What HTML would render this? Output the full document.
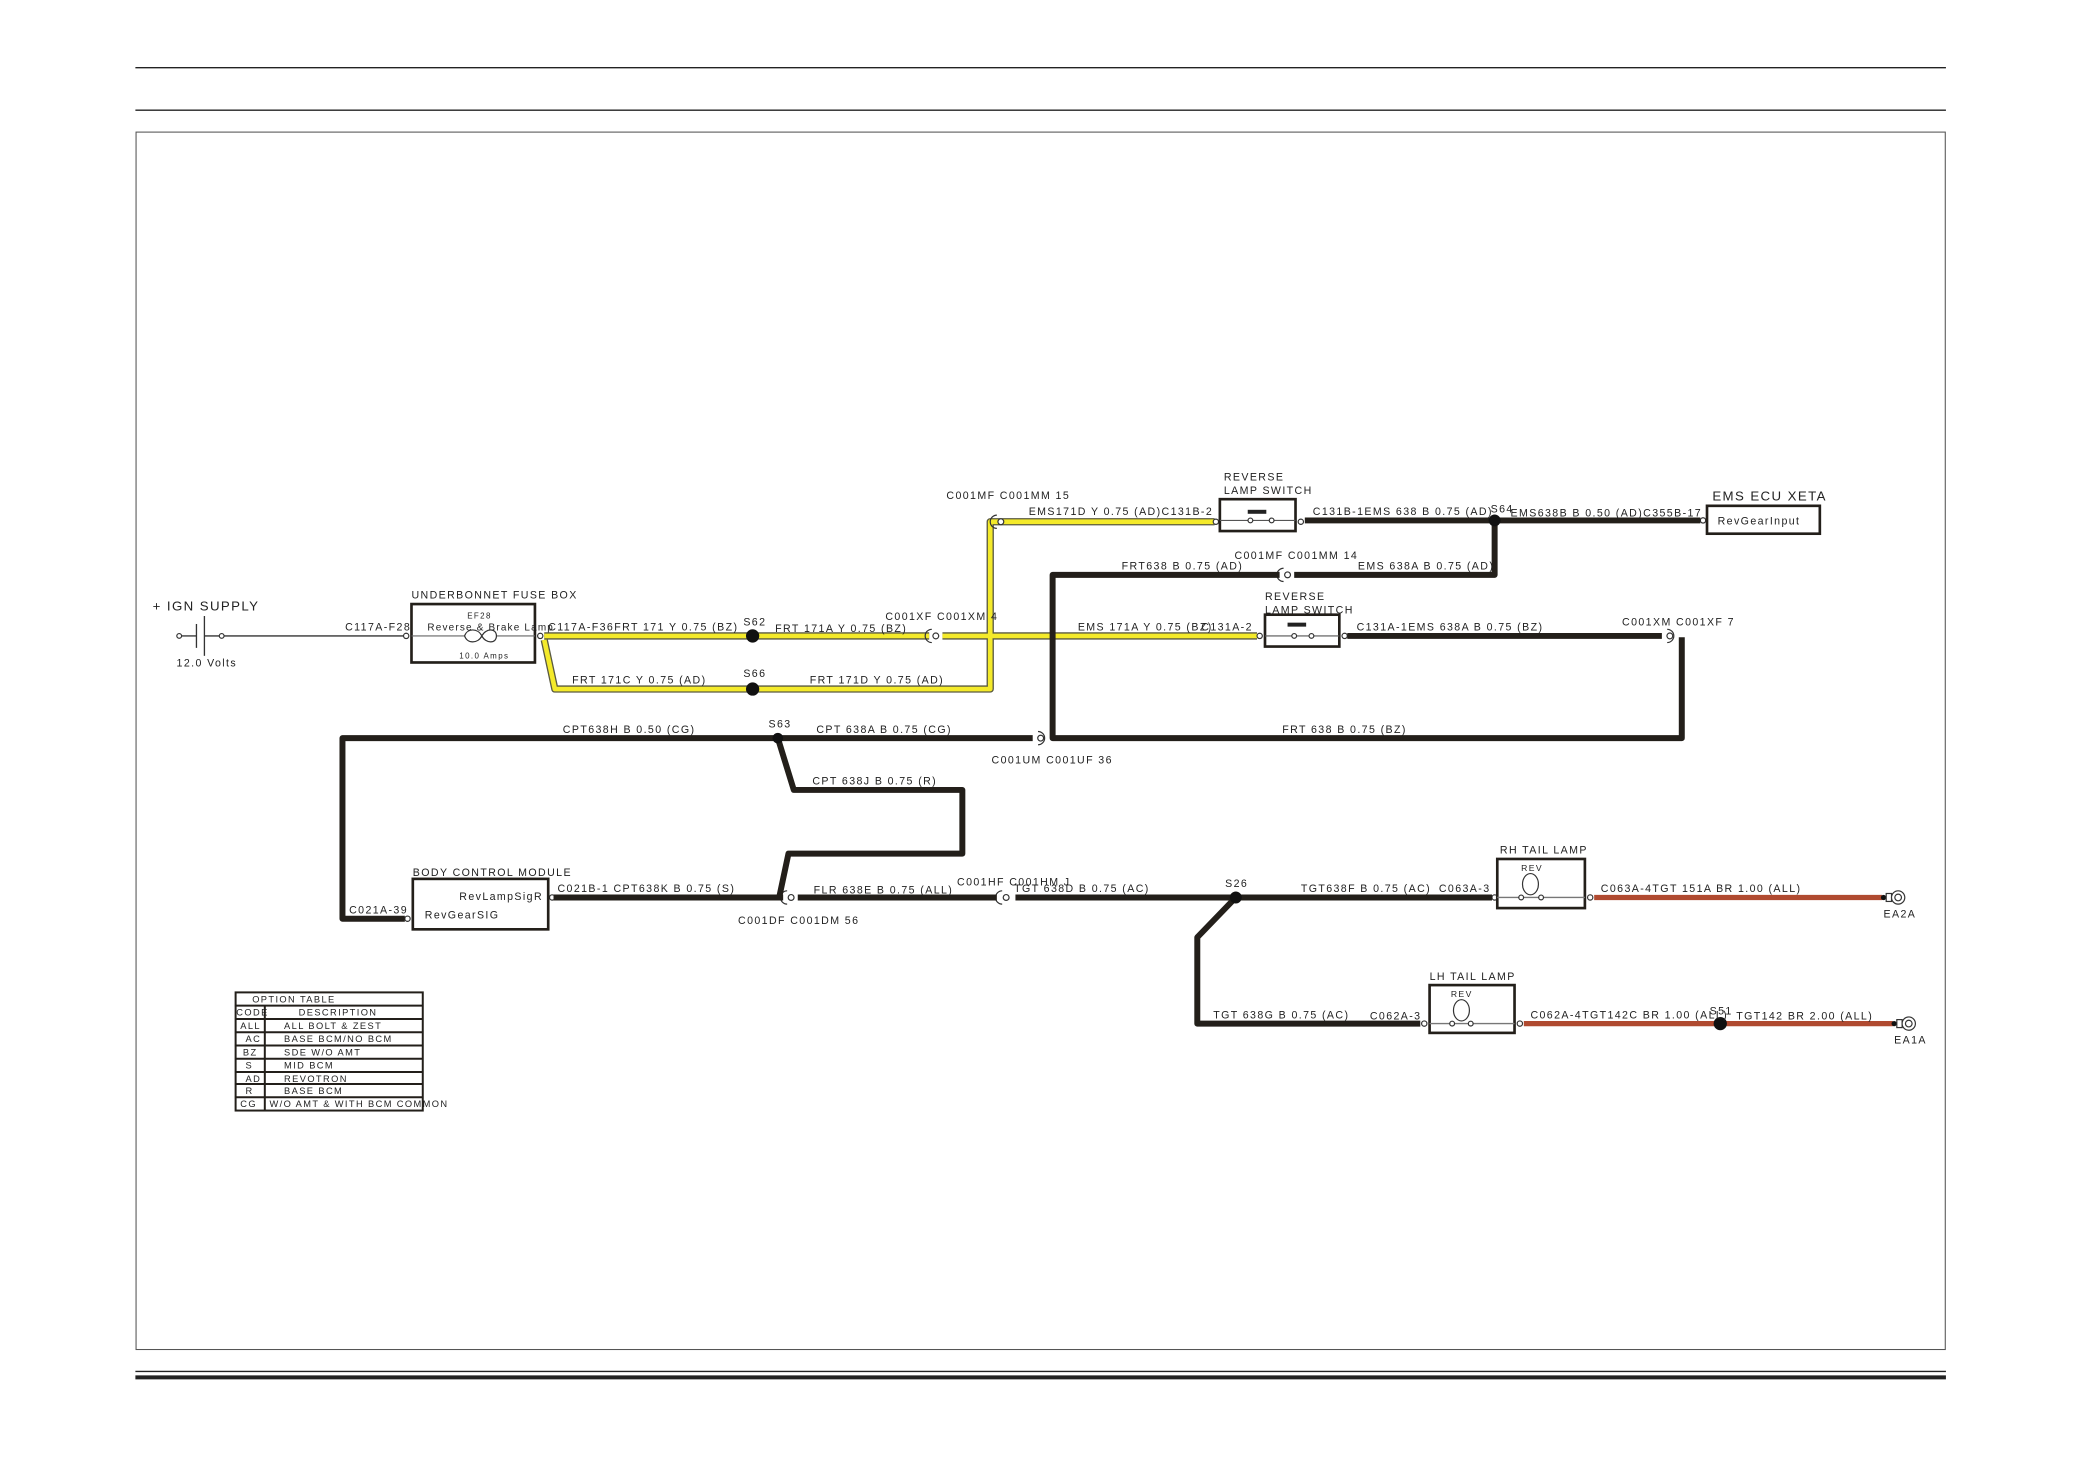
<!DOCTYPE html>
<html><head><meta charset="utf-8"><style>
html,body{margin:0;padding:0;background:#fff;}
svg{display:block;}
text{font-family:"Liberation Sans",sans-serif;font-size:8px;letter-spacing:1.05px;fill:#222;}
.y1{stroke:#5a5a40;stroke-width:5.5;fill:none;stroke-linejoin:round;}
.y2{stroke:#f4ea2a;stroke-width:3.5;fill:none;stroke-linejoin:round;}
.b{stroke:#231f1a;stroke-width:4.5;fill:none;stroke-linejoin:round;}
.r{stroke:#b04a30;stroke-width:4;fill:none;}
.t{stroke:#333;stroke-width:1;fill:none;}
.box{stroke:#231f1a;stroke-width:2;fill:#fff;}
.c{stroke:#333;stroke-width:0.9;fill:#fff;}
</style></head><body>
<svg width="2080" height="1471" viewBox="0 0 1567 1108" preserveAspectRatio="none" xmlns="http://www.w3.org/2000/svg">
<!-- frame -->
<line x1="102" y1="51" x2="1466" y2="51" stroke="#222" stroke-width="1"/>
<line x1="102" y1="83" x2="1466" y2="83" stroke="#222" stroke-width="1"/>
<rect x="102.5" y="99.5" width="1363" height="917" fill="none" stroke="#555" stroke-width="0.8"/>
<line x1="102" y1="1033" x2="1466" y2="1033" stroke="#222" stroke-width="1"/>
<line x1="102" y1="1037.5" x2="1466" y2="1037.5" stroke="#222" stroke-width="3"/>

<!-- IGN supply -->
<text x="115" y="460" style="font-size:10px">+ IGN SUPPLY</text>
<line x1="137" y1="479" x2="148" y2="479" class="t"/>
<line x1="148" y1="470" x2="148" y2="488" class="t"/>
<line x1="154" y1="464" x2="154" y2="494" class="t"/>
<line x1="154" y1="479" x2="166" y2="479" class="t"/>
<circle cx="135" cy="479" r="1.8" class="c"/><circle cx="167" cy="479" r="1.8" class="c"/>
<line x1="169" y1="479" x2="306" y2="479" class="t"/>
<text x="133" y="502">12.0 Volts</text>
<text x="260" y="475">C117A-F28</text>
<circle cx="306" cy="479" r="2" class="c"/>

<!-- fuse box -->
<text x="310" y="451">UNDERBONNET FUSE BOX</text>
<rect x="310" y="455" width="93" height="44" class="box"/>
<line x1="310" y1="479" x2="403" y2="479" stroke="#666" stroke-width="0.8"/>
<path d="M350 479 C352 473,360 473,363 479 C366 485,374 485,374 479 C374 473,366 473,363 479 C360 485,352 485,350 479Z" fill="#fff" stroke="#333" stroke-width="0.9"/>
<text x="352" y="466" style="font-size:6px">EF28</text>
<text x="322" y="475" style="font-size:7.5px;letter-spacing:0.9px">Reverse &amp; Brake Lamp</text>
<text x="346" y="496" style="font-size:6px">10.0 Amps</text>
<circle cx="407" cy="479" r="2" class="c"/>

<!-- yellow wires -->
<g>
<path class="y1" d="M410 479 H700 M710 479 H947 M410 482 L418 519 H746 V393 H760 M760 393 H915"/>
<path class="y2" d="M410 479 H700 M710 479 H947 M410 482 L418 519 H746 V393 H760 M760 393 H915"/>
</g>
<circle cx="567" cy="479" r="5" fill="#111"/>
<circle cx="567" cy="519" r="5" fill="#111"/>
<text x="413" y="475">C117A-F36FRT 171 Y 0.75 (BZ)</text>
<text x="560" y="471">S62</text>
<text x="584" y="476">FRT 171A Y 0.75 (BZ)</text>
<text x="667" y="467">C001XF C001XM 4</text>
<text x="431" y="515">FRT 171C Y 0.75 (AD)</text>
<text x="560" y="510">S66</text>
<text x="610" y="515">FRT 171D Y 0.75 (AD)</text>
<text x="713" y="376">C001MF C001MM 15</text>
<text x="775" y="388">EMS171D Y 0.75 (AD)C131B-2</text>
<text x="812" y="475">EMS 171A Y 0.75 (BZ)</text>
<text x="905" y="475">C131A-2</text>

<!-- connectors -->
<g class="c">
<path d="M702 474 A5 5 0 0 0 702 484" fill="none"/><circle cx="705" cy="479" r="2.2"/>
<path d="M751 388 A5 5 0 0 0 751 398" fill="none"/><circle cx="754" cy="393" r="2.2"/>
<path d="M967 428 A5 5 0 0 0 967 438" fill="none"/><circle cx="970" cy="433" r="2.2"/>
<path d="M782 551 A5 5 0 0 1 782 561" fill="none"/><circle cx="784" cy="556" r="2.2"/>
<path d="M1256 474 A5 5 0 0 1 1256 484" fill="none"/><circle cx="1258" cy="479" r="2.2"/>
<path d="M593 671 A5 5 0 0 0 593 681" fill="none"/><circle cx="596" cy="676" r="2.2"/>
<path d="M755 671 A5 5 0 0 0 755 681" fill="none"/><circle cx="758" cy="676" r="2.2"/>
<circle cx="916" cy="393" r="2"/><circle cx="980" cy="393" r="2"/>
<circle cx="949" cy="479" r="2"/><circle cx="1013" cy="479" r="2"/>
<circle cx="1283" cy="392" r="2"/>
<circle cx="416" cy="676" r="2"/><circle cx="307" cy="692" r="2"/>
<circle cx="1126" cy="676" r="2"/><circle cx="1198" cy="676" r="2"/>
<circle cx="1073" cy="771" r="2"/><circle cx="1145" cy="771" r="2"/>
</g>

<!-- black wires -->
<path class="b" d="M983 392 H1281 M1126 392 V433 H975 M964 433 H793 V556 H1267 V480 M1015 479 H1252"/>
<path class="b" d="M778 556 H258 V692 H305 M586 556 L598 595 H725 V643 H594 L587 676 M417 676 H590 M601 676 H751 M765 676 H1124 M931 676 L902 706 V771 H1070"/>
<circle cx="1126" cy="392" r="4.5" fill="#111"/>
<circle cx="586" cy="556" r="4" fill="#111"/>
<circle cx="931" cy="676" r="4.5" fill="#111"/>

<!-- brown wires -->
<path class="r" d="M1201 676 H1418 M1148 771 H1426"/>
<circle cx="1296" cy="771" r="5" fill="#111"/>
<circle cx="1419" cy="676" r="2" fill="#111"/><circle cx="1427" cy="771" r="2" fill="#111"/>
<g class="c">
<rect x="1421" y="673" width="4" height="6"/><circle cx="1430" cy="676" r="5"/><circle cx="1430" cy="676" r="2.5"/>
<rect x="1429" y="768" width="4" height="6"/><circle cx="1438" cy="771" r="5"/><circle cx="1438" cy="771" r="2.5"/>
</g>
<text x="1419" y="691">EA2A</text>
<text x="1427" y="786">EA1A</text>

<!-- switch 1 -->
<text x="922" y="362">REVERSE</text>
<text x="922" y="372">LAMP SWITCH</text>
<rect x="919" y="376" width="57" height="24" class="box"/>
<rect x="940" y="384" width="14" height="3" fill="#222"/>
<line x1="919" y1="392" x2="976" y2="392" stroke="#555" stroke-width="0.8"/>
<circle cx="942" cy="392" r="1.8" class="c"/><circle cx="958" cy="392" r="1.8" class="c"/>
<text x="989" y="388">C131B-1EMS 638 B 0.75 (AD)</text>
<text x="1123" y="386">S64</text>
<text x="1138" y="389">EMS638B B 0.50 (AD)C355B-17</text>
<text x="1290" y="377" style="font-size:10px">EMS ECU XETA</text>
<rect x="1286" y="381" width="85" height="21" class="box"/>
<text x="1294" y="395">RevGearInput</text>
<text x="930" y="421">C001MF C001MM 14</text>
<text x="845" y="429">FRT638 B 0.75 (AD)</text>
<text x="1023" y="429">EMS 638A B 0.75 (AD)</text>

<!-- switch 2 -->
<text x="953" y="452">REVERSE</text>
<text x="953" y="462">LAMP SWITCH</text>
<rect x="953" y="463" width="56" height="24" class="box"/>
<rect x="970" y="469" width="14" height="3" fill="#222"/>
<line x1="953" y1="479" x2="1009" y2="479" stroke="#555" stroke-width="0.8"/>
<circle cx="975" cy="479" r="1.8" class="c"/><circle cx="988" cy="479" r="1.8" class="c"/>
<text x="1022" y="475">C131A-1EMS 638A B 0.75 (BZ)</text>
<text x="1222" y="471">C001XM C001XF 7</text>

<text x="424" y="552">CPT638H B 0.50 (CG)</text>
<text x="579" y="548">S63</text>
<text x="615" y="552">CPT 638A B 0.75 (CG)</text>
<text x="747" y="575">C001UM C001UF 36</text>
<text x="966" y="552">FRT 638 B 0.75 (BZ)</text>
<text x="612" y="591">CPT 638J B 0.75 (R)</text>

<!-- BCM -->
<text x="311" y="660">BODY CONTROL MODULE</text>
<rect x="311" y="662" width="102" height="38" class="box"/>
<text x="346" y="678">RevLampSigR</text>
<text x="320" y="692">RevGearSIG</text>
<text x="263" y="688">C021A-39</text>
<text x="420" y="672">C021B-1  CPT638K B 0.75 (S)</text>
<text x="613" y="673">FLR  638E B 0.75 (ALL)</text>
<text x="721" y="667">C001HF C001HM J</text>
<text x="556" y="696">C001DF C001DM 56</text>
<text x="764" y="672">TGT 638D B 0.75 (AC)</text>
<text x="923" y="668">S26</text>
<text x="980" y="672">TGT638F B 0.75 (AC)</text>
<text x="1084" y="672">C063A-3</text>
<text x="914" y="767">TGT 638G B 0.75 (AC)</text>
<text x="1032" y="768">C062A-3</text>

<!-- RH tail lamp -->
<text x="1130" y="643">RH TAIL LAMP</text>
<rect x="1128" y="647" width="66" height="37" class="box"/>
<text x="1146" y="656" style="font-size:6.5px">REV</text>
<line x1="1128" y1="676" x2="1194" y2="676" stroke="#777" stroke-width="1"/>
<ellipse cx="1153" cy="666" rx="6" ry="8" class="c"/>
<circle cx="1146" cy="676" r="1.8" class="c"/><circle cx="1161" cy="676" r="1.8" class="c"/>
<text x="1206" y="672">C063A-4TGT 151A BR 1.00 (ALL)</text>

<!-- LH tail lamp -->
<text x="1077" y="738">LH TAIL LAMP</text>
<rect x="1077" y="742" width="64" height="36" class="box"/>
<text x="1093" y="751" style="font-size:6.5px">REV</text>
<line x1="1077" y1="771" x2="1141" y2="771" stroke="#777" stroke-width="1"/>
<ellipse cx="1101" cy="761" rx="6" ry="8" class="c"/>
<circle cx="1094" cy="771" r="1.8" class="c"/><circle cx="1108" cy="771" r="1.8" class="c"/>
<text x="1153" y="767">C062A-4TGT142C BR 1.00 (ALL)</text>
<text x="1288" y="764">S51</text>
<text x="1308" y="768">TGT142 BR 2.00 (ALL)</text>

<!-- option table -->
<g stroke="#231f1a" stroke-width="1.5" fill="none">
<rect x="177.5" y="747.5" width="141" height="89"/>
<line x1="199.5" y1="757" x2="199.5" y2="837"/>
<line x1="177" y1="757.5" x2="318" y2="757.5"/>
<line x1="177" y1="767.5" x2="318" y2="767.5"/>
<line x1="177" y1="777.5" x2="318" y2="777.5"/>
<line x1="177" y1="787.5" x2="318" y2="787.5"/>
<line x1="177" y1="797.5" x2="318" y2="797.5"/>
<line x1="177" y1="807.5" x2="318" y2="807.5"/>
<line x1="177" y1="816.5" x2="318" y2="816.5"/>
<line x1="177" y1="826.5" x2="318" y2="826.5"/>
</g>
<g>
<text x="190" y="755" style="font-size:7px">OPTION TABLE</text>
<text x="178" y="765" style="font-size:7px">CODE</text><text x="225" y="765" style="font-size:7px">DESCRIPTION</text>
<text x="181" y="775" style="font-size:7px">ALL</text><text x="214" y="775" style="font-size:7px">ALL BOLT &amp; ZEST</text>
<text x="185" y="785" style="font-size:7px">AC</text><text x="214" y="785" style="font-size:7px">BASE BCM/NO BCM</text>
<text x="183" y="795" style="font-size:7px">BZ</text><text x="214" y="795" style="font-size:7px">SDE W/O AMT</text>
<text x="185" y="805" style="font-size:7px">S</text><text x="214" y="805" style="font-size:7px">MID BCM</text>
<text x="185" y="815" style="font-size:7px">AD</text><text x="214" y="815" style="font-size:7px">REVOTRON</text>
<text x="185" y="824" style="font-size:7px">R</text><text x="214" y="824" style="font-size:7px">BASE BCM</text>
<text x="181" y="834" style="font-size:7px">CG</text><text x="203" y="834" style="font-size:7px">W/O AMT &amp; WITH BCM COMMON</text>
</g>
</svg>
</body></html>
